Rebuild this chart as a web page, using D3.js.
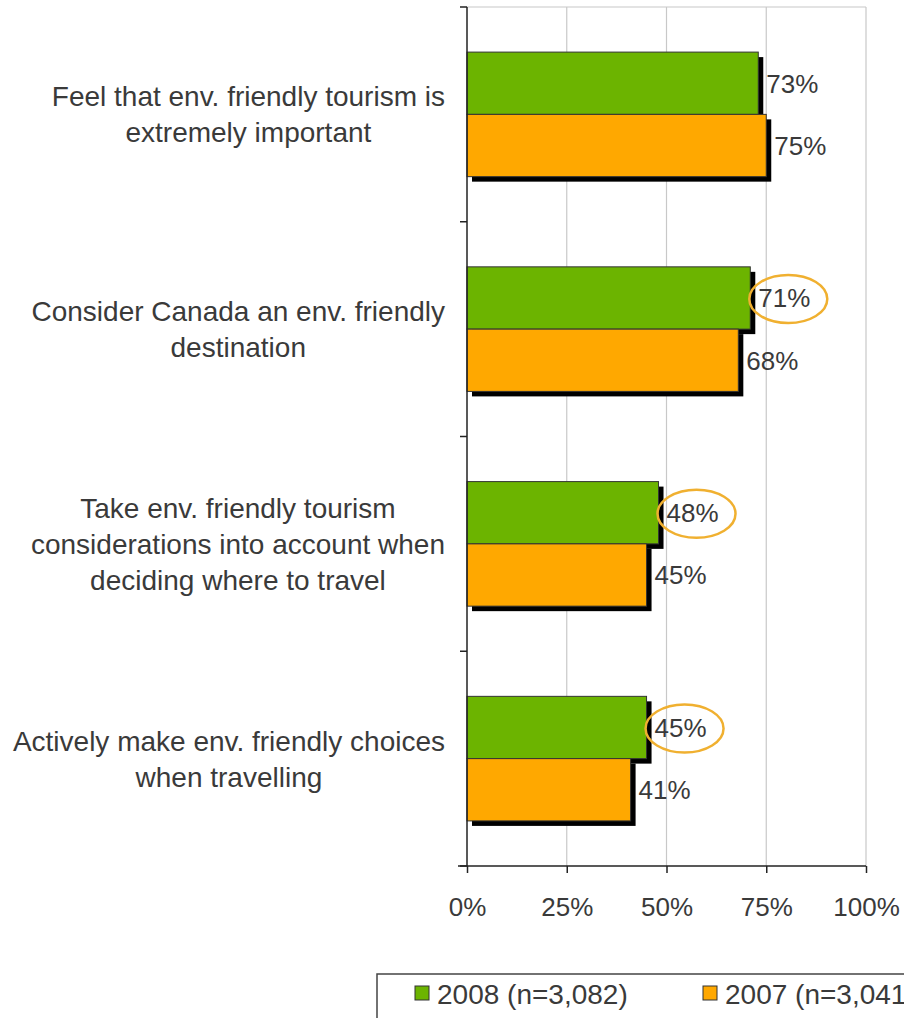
<!DOCTYPE html>
<html>
<head>
<meta charset="utf-8">
<script src="https://cdn.jsdelivr.net/npm/d3@7"></script>
<style>
  body { margin: 0; background: #fff; overflow: hidden; }
  svg { display: block; font-family: "Liberation Sans", Arial, sans-serif; }
</style>
</head>
<body>
<div id="chart"></div>
<script>
// data
const categories = [
  ["Feel that env. friendly tourism is", "extremely important"],
  ["Consider Canada an env. friendly", "destination"],
  ["Take env. friendly tourism", "considerations into account when", "deciding where to travel"],
  ["Actively make env. friendly choices", "when travelling"]
];
const catKeys = ["imp", "canada", "consider", "active"];
const values2008 = [73, 71, 48, 45];
const values2007 = [75, 68, 45, 41];
const circled2008 = [false, true, true, true];
const seriesNames = ["2008 (n=3,082)", "2007 (n=3,041)"];
const seriesColors = ["#6cb400", "#ffa800"];
const xTicks = [0, 25, 50, 75, 100];

const W = 904, H = 1018;
const plot = {left: 467, right: 866, top: 7, bottom: 866};
const textColor = "#3a3a3a";

const svg = d3.select("#chart").append("svg")
  .attr("width", W).attr("height", H);

svg.append("rect").attr("width", W).attr("height", H).attr("fill", "#fff");

const x = d3.scaleLinear().domain([0, 100]).range([plot.left, plot.right]);
const y = d3.scaleBand().domain(catKeys).range([plot.top, plot.bottom])
  .paddingInner(0.42).paddingOuter(0.21);
const ySub = d3.scaleBand().domain([0, 1]).range([0, y.bandwidth()]);

// grid + top border
svg.append("g").selectAll("line").data(xTicks.slice(1)).join("line")
  .attr("x1", d => x(d)).attr("x2", d => x(d))
  .attr("y1", plot.top).attr("y2", plot.bottom)
  .attr("stroke", "#c8c8c8").attr("stroke-width", 1.2);
svg.append("line").attr("x1", plot.left).attr("x2", plot.right)
  .attr("y1", plot.top).attr("y2", plot.top)
  .attr("stroke", "#c8c8c8").attr("stroke-width", 1.2);

// bars
const rows = catKeys.map((k, i) => [
  {k, s: 0, v: values2008[i]},
  {k, s: 1, v: values2007[i]}
]).flat();

const shadow = 5;
svg.append("g").selectAll("rect").data(rows).join("rect")
  .attr("x", x(0) + shadow)
  .attr("y", d => y(d.k) + ySub(d.s) + shadow)
  .attr("width", d => x(d.v) - x(0))
  .attr("height", ySub.bandwidth())
  .attr("fill", "#000");

svg.append("g").selectAll("rect").data(rows).join("rect")
  .attr("x", x(0))
  .attr("y", d => y(d.k) + ySub(d.s))
  .attr("width", d => x(d.v) - x(0))
  .attr("height", ySub.bandwidth())
  .attr("fill", d => seriesColors[d.s])
  .attr("stroke", "#333").attr("stroke-width", 1);

// value labels
svg.append("g").selectAll("text").data(rows).join("text")
  .attr("x", d => x(d.v) + 8)
  .attr("y", d => y(d.k) + ySub(d.s) + ySub.bandwidth() / 2)
  .attr("dy", "0.36em")
  .attr("font-size", 26).attr("fill", textColor)
  .text(d => d.v + "%");

// highlight ellipses
svg.append("g").selectAll("ellipse")
  .data(rows.filter(d => d.s === 0 && circled2008[catKeys.indexOf(d.k)]))
  .join("ellipse")
  .attr("cx", d => x(d.v) + 38)
  .attr("cy", d => y(d.k) + ySub(0) + ySub.bandwidth() / 2 + 1)
  .attr("rx", 39).attr("ry", 24)
  .attr("fill", "none").attr("stroke", "#f0b030").attr("stroke-width", 2.5);

// axes
const xAxis = d3.axisBottom(x).tickValues(xTicks).tickSize(7).tickFormat(d => d + "%");
const gx = svg.append("g").attr("transform", `translate(0,${plot.bottom})`).call(xAxis);
gx.select(".domain").attr("stroke", "#222").attr("stroke-width", 1.5)
  .attr("d", `M${plot.left - 9},0H${plot.right}`);
gx.selectAll(".tick line").attr("stroke", "#222").attr("stroke-width", 1.5);
gx.selectAll(".tick text").attr("font-size", 26).attr("fill", textColor)
  .attr("font-family", "Liberation Sans, Arial, sans-serif").attr("dy", "1.55em");

const yEdges = [plot.top].concat(catKeys.map(k => y(k) + y.bandwidth() + y.step() * 0.21));
svg.append("line").attr("x1", plot.left).attr("x2", plot.left)
  .attr("y1", plot.top).attr("y2", plot.bottom)
  .attr("stroke", "#222").attr("stroke-width", 1.5);
svg.append("g").selectAll("line").data(yEdges).join("line")
  .attr("x1", plot.left - 7).attr("x2", plot.left)
  .attr("y1", d => d).attr("y2", d => d)
  .attr("stroke", "#222").attr("stroke-width", 1.5);

// category labels: block right-aligned, lines centred inside block
const lineH = 36;
catKeys.forEach((k, i) => {
  const lines = categories[i];
  const g = svg.append("g");
  const cy = y(k) + y.bandwidth() / 2;
  const t = g.selectAll("text").data(lines).join("text")
    .attr("text-anchor", "middle")
    .attr("font-size", 28).attr("fill", textColor)
    .attr("y", (d, j) => cy + (j - (lines.length - 1) / 2) * lineH)
    .attr("dy", "0.36em")
    .text(d => d);
  const wMax = d3.max(t.nodes(), n => n.getComputedTextLength());
  t.attr("x", 445 - wMax / 2);
});

// legend
const leg = svg.append("g");
leg.append("rect").attr("x", 377).attr("y", 974).attr("width", 600).attr("height", 80)
  .attr("fill", "#fff").attr("stroke", "#444").attr("stroke-width", 1.5);
const legX = [415, 703];
seriesNames.forEach((name, i) => {
  leg.append("rect").attr("x", legX[i]).attr("y", 986).attr("width", 14).attr("height", 14)
    .attr("fill", seriesColors[i]).attr("stroke", "#333").attr("stroke-width", 1);
  leg.append("text").attr("x", legX[i] + 22).attr("y", 994).attr("dy", "0.36em")
    .attr("font-size", 28).attr("fill", textColor).text(name);
});
</script>
</body>
</html>
